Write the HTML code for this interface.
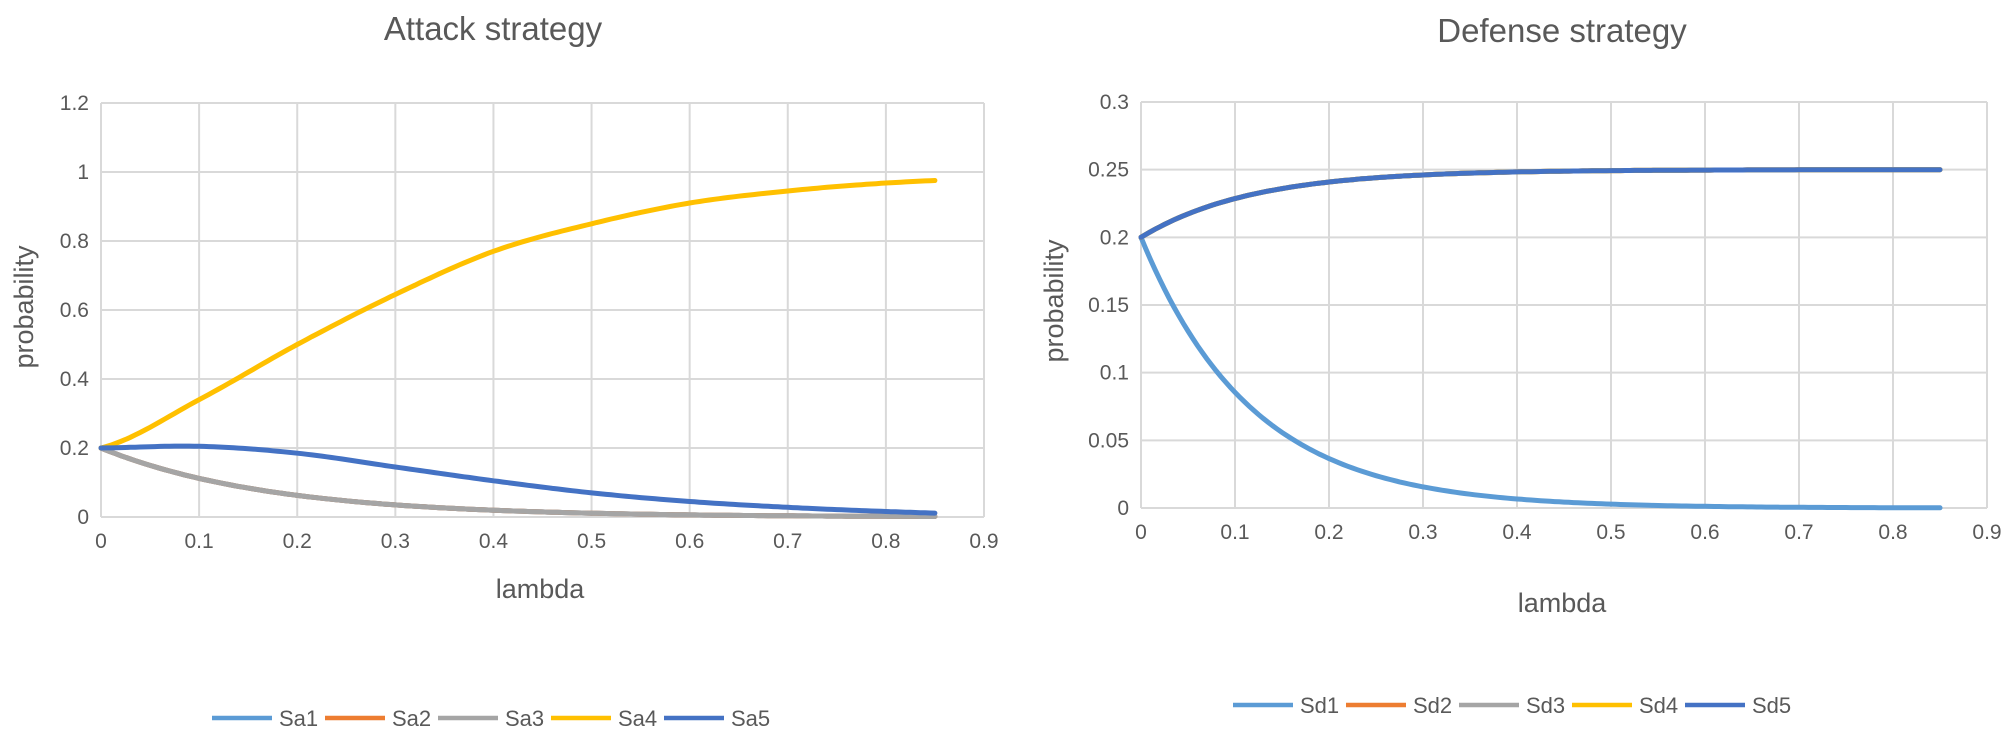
<!DOCTYPE html>
<html><head><meta charset="utf-8"><style>
html,body{margin:0;padding:0;background:#fff;}
svg{display:block;font-family:"Liberation Sans",sans-serif;}
</style></head><body>
<svg id="s" width="2007" height="743" xmlns="http://www.w3.org/2000/svg">
<g id="g1"></g>
<g id="g2"></g>
<text x="493" y="40" font-size="33" fill="#595959" text-anchor="middle">Attack strategy</text>
<text x="1562" y="42" font-size="33" fill="#595959" text-anchor="middle">Defense strategy</text>
<text x="540" y="598" font-size="27" fill="#595959" text-anchor="middle">lambda</text>
<text x="1562" y="612" font-size="27" fill="#595959" text-anchor="middle">lambda</text>
<text transform="translate(33,307) rotate(-90)" font-size="27" fill="#595959" text-anchor="middle">probability</text>
<text transform="translate(1063,301) rotate(-90)" font-size="27" fill="#595959" text-anchor="middle">probability</text>
</svg>
<script>
var NS="http://www.w3.org/2000/svg";
function el(p,t,a,txt){var e=document.createElementNS(NS,t);for(var k in a)e.setAttribute(k,a[k]);if(txt!==undefined)e.textContent=txt;p.appendChild(e);return e;}
function chart(g,L,T,R,B,ymax,ystep,ylabels,series){
  var sx=function(x){return L+(R-L)*x/0.9;}, sy=function(y){return B-(B-T)*y/ymax;};
  var n=Math.round(ymax/ystep);
  for(var i=0;i<=n;i++){var y=sy(i*ystep);el(g,"line",{x1:L,x2:R,y1:y,y2:y,stroke:"#d9d9d9","stroke-width":2});
    el(g,"text",{x:L-12,y:y+7,"font-size":21,fill:"#595959","text-anchor":"end"},ylabels[i]);}
  for(var j=0;j<=9;j++){var x=sx(j*0.1);el(g,"line",{x1:x,x2:x,y1:T,y2:B,stroke:"#d9d9d9","stroke-width":2});
    el(g,"text",{x:x,y:B+31,"font-size":21,fill:"#595959","text-anchor":"middle"},j==0?"0":(j/10).toString());}
  series.forEach(function(s){
    var d="";for(var k=0;k<=170;k++){var x=k*0.005;var px=sx(x),py=sy(s.f(x));d+=(k?"L":"M")+px.toFixed(1)+" "+py.toFixed(1);}
    el(g,"path",{d:d,fill:"none",stroke:s.c,"stroke-width":5,"stroke-linecap":"round"});
  });
}
function interp(pts){return function(x){var i=Math.min(Math.floor(x/0.1),pts.length-2);var t=(x-i*0.1)/0.1;
  var p0=pts[Math.max(i-1,0)],p1=pts[i],p2=pts[i+1],p3=pts[Math.min(i+2,pts.length-1)];
  return 0.5*((2*p1)+(-p0+p2)*t+(2*p0-5*p1+4*p2-p3)*t*t+(-p0+3*p1-3*p2+p3)*t*t*t);};}
var sa4=interp([0.2,0.34,0.5,0.645,0.77,0.85,0.91,0.945,0.968,0.98]);
var sa5=interp([0.2,0.205,0.185,0.145,0.105,0.07,0.045,0.028,0.016,0.008]);
var sa3=function(x){return 0.2*Math.exp(-5.8*x);};
chart(document.getElementById("g1"),101,103,984,517,1.2,0.2,["0","0.2","0.4","0.6","0.8","1","1.2"],[
 {c:"#5b9bd5",f:sa3},{c:"#ed7d31",f:sa3},{c:"#a5a5a5",f:sa3},{c:"#ffc000",f:sa4},{c:"#4472c4",f:sa5}]);
var sd1=function(x){return 0.2*Math.exp(-8.5*x);}, sd5=function(x){return (1-sd1(x))/4;};
chart(document.getElementById("g2"),1141,102,1987,508,0.3,0.05,["0","0.05","0.1","0.15","0.2","0.25","0.3"],[
 {c:"#5b9bd5",f:sd1},{c:"#ed7d31",f:sd5},{c:"#a5a5a5",f:sd5},{c:"#ffc000",f:sd5},{c:"#4472c4",f:sd5}]);
var s=document.getElementById("s");
function legend(x0,y,names){var cols=["#5b9bd5","#ed7d31","#a5a5a5","#ffc000","#4472c4"];
  for(var i=0;i<5;i++){var x=x0+i*113;el(s,"line",{x1:x,x2:x+60,y1:y,y2:y,stroke:cols[i],"stroke-width":4.5});
   el(s,"text",{x:x+67,y:y+8,"font-size":22,fill:"#595959"},names[i]);}}
legend(212,718,["Sa1","Sa2","Sa3","Sa4","Sa5"]);
legend(1233,705,["Sd1","Sd2","Sd3","Sd4","Sd5"]);
</script>
</body></html>
